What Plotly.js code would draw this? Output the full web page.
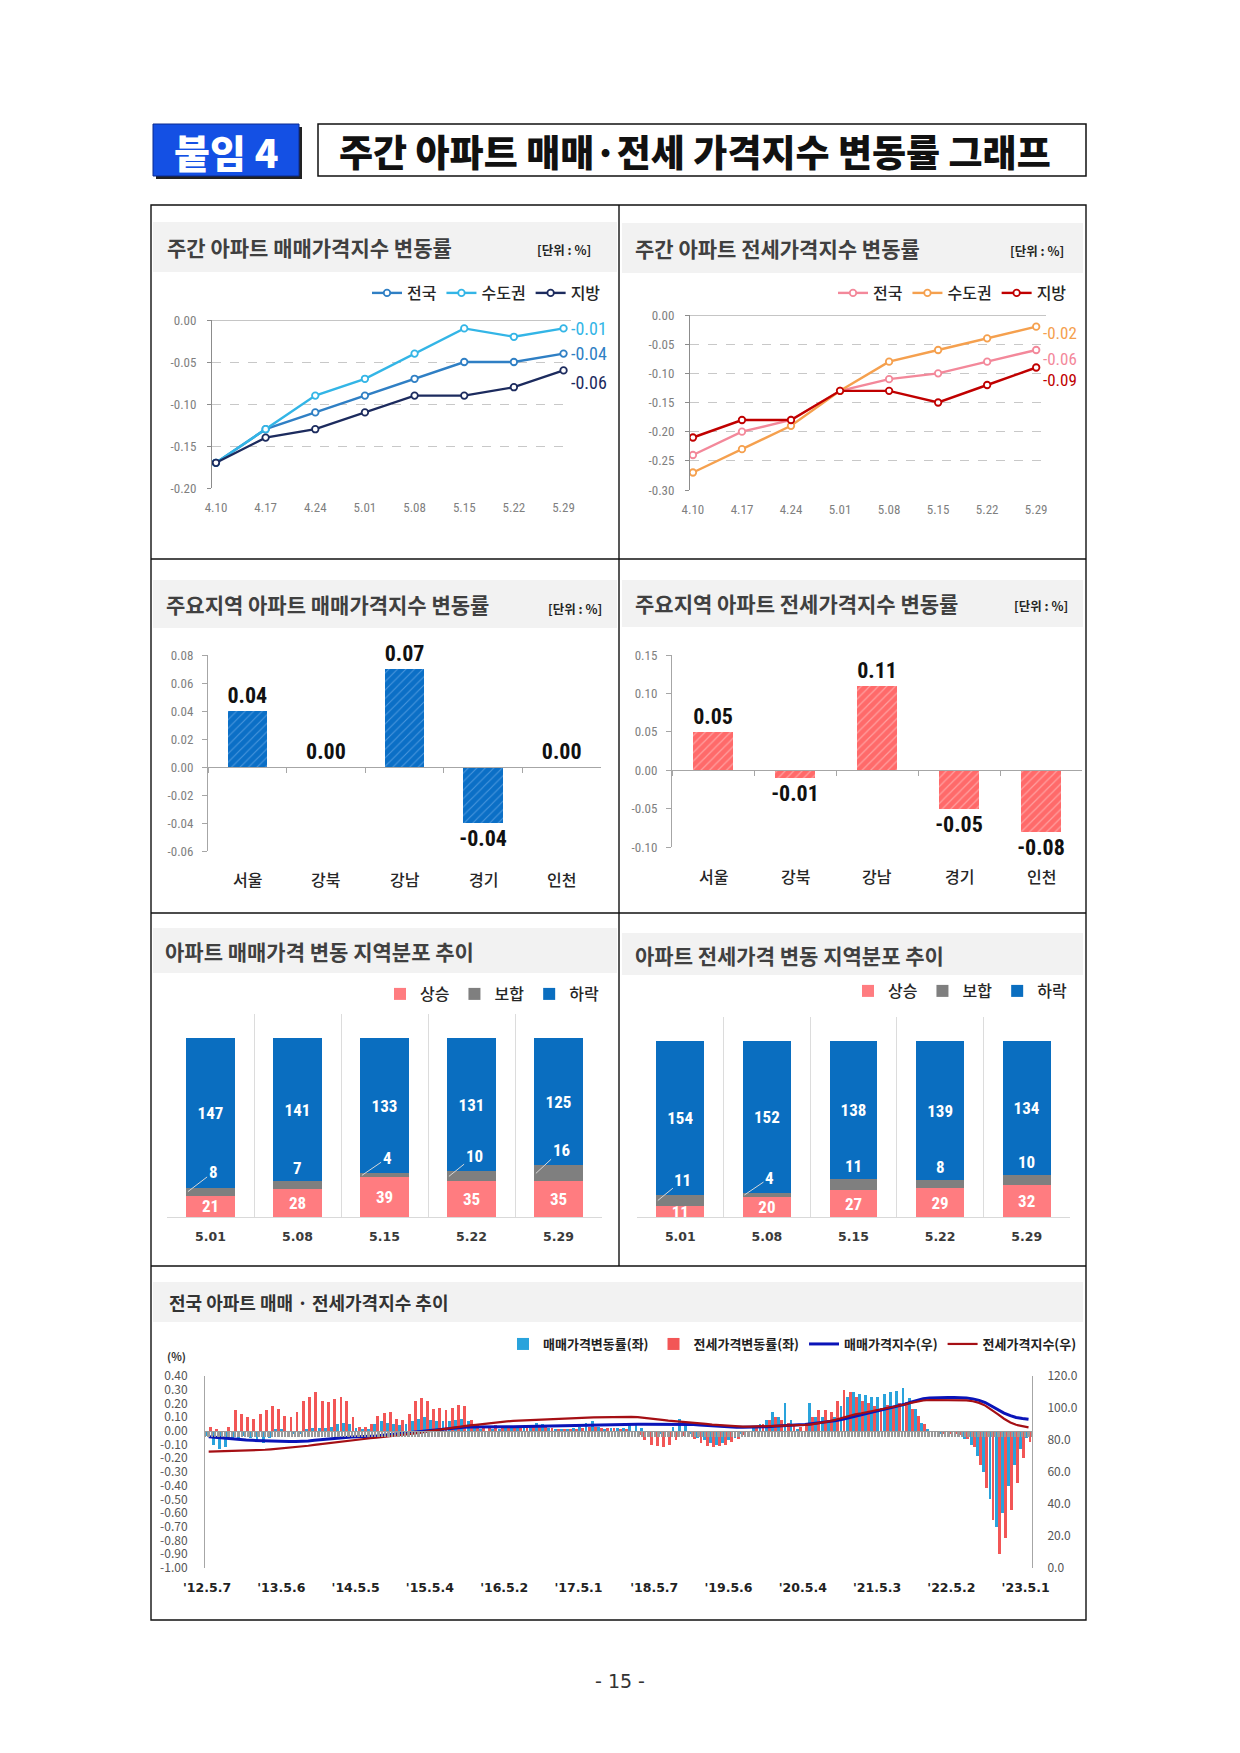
<!DOCTYPE html>
<html><head><meta charset="utf-8">
<script src="https://cdn.plot.ly/plotly-3.0.1.min.js"></script>
<style>html,body{margin:0;padding:0;background:#fff}#chart{width:1240px;height:1753px}</style>
</head><body><div id="chart"></div>
<script>
// ---------- DATA ----------
const weeks = ['4.10','4.17','4.24','5.01','5.08','5.15','5.22','5.29'];
const saleNation  = [-0.17,-0.13,-0.11,-0.09,-0.07,-0.05,-0.05,-0.04];
const saleCapital = [-0.17,-0.13,-0.09,-0.07,-0.04,-0.01,-0.02,-0.01];
const saleLocal   = [-0.17,-0.14,-0.13,-0.11,-0.09,-0.09,-0.08,-0.06];
const jeonseNation  = [-0.24,-0.20,-0.18,-0.13,-0.11,-0.10,-0.08,-0.06];
const jeonseCapital = [-0.27,-0.23,-0.19,-0.13,-0.08,-0.06,-0.04,-0.02];
const jeonseLocal   = [-0.21,-0.18,-0.18,-0.13,-0.13,-0.15,-0.12,-0.09];
const seriesNames = ['전국','수도권','지방'];
const yTicks1 = [0,-0.05,-0.10,-0.15,-0.20];
const yTicks2 = [0,-0.05,-0.10,-0.15,-0.20,-0.25,-0.30];

const regions = ['서울','강북','강남','경기','인천'];
const saleRegion   = [0.04, 0.00, 0.07, -0.04, 0.00];
const jeonseRegion = [0.05, -0.01, 0.11, -0.05, -0.08];
const yTicks3 = [0.08,0.06,0.04,0.02,0,-0.02,-0.04,-0.06];
const yTicks4 = [0.15,0.10,0.05,0,-0.05,-0.10];

const distWeeks = ['5.01','5.08','5.15','5.22','5.29'];
const distNames = ['상승','보합','하락'];
const saleRise = [21,28,39,35,35];
const saleFlat = [8,7,4,10,16];
const saleFall = [147,141,133,131,125];
const saleLeader = [true,false,true,true,true];
const jeonseRise = [11,20,27,29,32];
const jeonseFlat = [11,4,11,8,10];
const jeonseFall = [154,152,138,139,134];
const jeonseLeader = [true,true,false,false,false];

// monthly, 2012-05 .. 2023-05
const saleRate = [
 -0.04,-0.10,-0.13,-0.12,-0.06,-0.05,-0.04,-0.05,
 -0.07,-0.09,-0.05,0.01,0.01,-0.01,-0.02,-0.02,0.01,0.02,0.02,0.02,
 0.03,0.05,0.06,0.05,0.02,0.01,0.01,0.05,0.07,0.06,0.05,0.04,
 0.05,0.07,0.09,0.10,0.08,0.07,0.07,0.07,0.08,0.09,0.07,0.04,
 0.01,0.00,0.01,0.01,0.02,0.02,0.02,0.03,0.04,0.06,0.05,0.02,
 0.01,0.01,0.01,0.02,0.03,0.06,0.07,0.03,0.01,0.02,0.02,0.02,
 0.04,0.05,0.02,0.00,-0.01,-0.02,-0.01,0.03,0.09,0.04,-0.02,-0.05,
 -0.07,-0.09,-0.10,-0.09,-0.07,-0.05,-0.02,0.00,0.02,0.05,0.08,0.14,
 0.10,0.20,0.08,0.01,0.00,0.20,0.10,0.10,0.08,0.10,0.18,0.25,
 0.28,0.27,0.26,0.25,0.25,0.27,0.28,0.29,0.31,0.24,0.16,0.06,
 0.01,-0.01,-0.02,-0.01,-0.01,-0.03,-0.06,-0.10,-0.18,-0.30,-0.50,-0.70,
 -0.60,-0.40,-0.25,-0.13,-0.05];
const jeonseRate = [
 0.03,0.01,0.00,0.03,0.15,0.12,0.10,0.09,
 0.12,0.15,0.18,0.16,0.11,0.10,0.14,0.22,0.25,0.28,0.22,0.21,
 0.23,0.25,0.22,0.10,0.03,0.03,0.05,0.11,0.13,0.14,0.09,0.08,
 0.12,0.22,0.24,0.22,0.16,0.17,0.15,0.17,0.19,0.18,0.08,0.04,
 0.03,0.03,0.04,0.03,0.03,0.02,0.02,0.02,0.03,0.04,0.04,0.02,
 0.01,0.01,0.01,0.01,0.02,0.03,0.03,0.02,0.02,0.02,0.01,0.01,
 0.00,-0.03,-0.07,-0.10,-0.11,-0.12,-0.10,-0.07,-0.04,-0.03,-0.06,-0.09,
 -0.11,-0.12,-0.11,-0.10,-0.08,-0.06,-0.03,0.00,0.02,0.05,0.08,0.10,
 0.08,0.06,0.04,0.03,0.05,0.10,0.15,0.15,0.14,0.22,0.30,0.28,
 0.25,0.22,0.20,0.18,0.17,0.19,0.18,0.20,0.21,0.16,0.11,0.05,
 0.00,-0.01,-0.02,-0.02,-0.02,-0.03,-0.06,-0.12,-0.25,-0.42,-0.65,-0.90,
 -0.78,-0.58,-0.38,-0.20,-0.08];
const saleIndex = [
 82.0,81.6,81.2,80.8,80.5,80.2,80.0,79.8,
 79.6,79.4,79.3,79.2,79.1,79.0,79.0,79.1,79.4,79.8,80.2,80.5,
 80.8,81.1,81.5,81.8,82.0,82.1,82.2,82.5,82.9,83.3,83.6,83.9,
 84.2,84.6,85.1,85.6,86.0,86.4,86.8,87.2,87.6,87.9,88.1,88.2,
 88.2,88.2,88.2,88.3,88.3,88.3,88.4,88.5,88.6,88.7,88.8,88.8,
 88.8,88.8,88.8,88.9,89.0,89.2,89.4,89.5,89.5,89.6,89.7,89.8,
 89.9,89.9,89.9,89.9,89.8,89.8,89.7,89.8,90.0,89.9,89.7,89.4,
 89.1,88.8,88.5,88.2,88.0,87.9,87.9,87.9,88.0,88.1,88.3,88.6,
 88.9,89.3,89.5,89.6,89.7,90.1,90.7,91.2,91.6,92.1,92.9,93.8,
 94.8,95.7,96.6,97.5,98.3,99.2,100.2,101.2,102.3,103.6,104.9,105.8,
 106.2,106.4,106.5,106.5,106.5,106.4,106.2,105.7,104.8,103.4,101.2,98.8,
 96.8,95.2,94.1,93.4,92.9];
const jeonseIndex = [
 72.7,72.8,72.9,73.0,73.2,73.3,73.4,73.5,
 73.7,73.9,74.2,74.5,74.9,75.2,75.5,75.9,76.4,76.9,77.4,77.9,
 78.4,79.0,79.6,80.1,80.5,80.8,81.1,81.4,81.8,82.3,82.7,83.0,
 83.3,83.8,84.5,85.2,85.8,86.3,86.8,87.3,87.9,88.5,89.1,89.5,
 90.0,90.5,90.9,91.3,91.6,91.9,92.1,92.3,92.5,92.8,93.0,93.2,
 93.4,93.5,93.6,93.7,93.8,94.0,94.1,94.2,94.3,94.4,94.5,94.6,
 94.5,94.3,94.0,93.6,93.1,92.6,92.1,91.8,91.5,91.3,91.0,90.6,
 90.1,89.6,89.3,89.0,88.7,88.5,88.4,88.3,88.4,88.6,88.8,89.0,
 89.1,89.2,89.3,89.4,89.5,89.8,90.3,91.0,91.8,92.8,94.0,95.2,
 96.0,96.7,97.4,98.1,98.8,99.5,100.3,101.2,102.2,103.2,104.1,104.7,
 105.0,105.0,105.0,105.0,105.0,105.0,104.8,104.2,103.2,101.5,99.0,96.2,
 93.3,91.0,89.5,88.5,87.9];
const trendTickDates = ['2012-05-07','2013-05-06','2014-05-05','2015-05-04','2016-05-02','2017-05-01','2018-05-07','2019-05-06','2020-05-04','2021-05-03','2022-05-02','2023-05-01'];
const trendTickText = ["'12.5.7","'13.5.6","'14.5.5","'15.5.4","'16.5.2","'17.5.1","'18.5.7","'19.5.6","'20.5.4","'21.5.3","'22.5.2","'23.5.1"];
const rateTicks = [0.4,0.3,0.2,0.1,0,-0.1,-0.2,-0.3,-0.4,-0.5,-0.6,-0.7,-0.8,-0.9,-1.0];
const indexTicks = [0,20,40,60,80,100,120];
const trendNames = ['매매가격변동률(좌)','전세가격변동률(좌)','매매가격지수(우)','전세가격지수(우)'];

// ---------- HELPERS ----------
const W = 1240, H = 1753;
const X = p => p / W;
const Y = p => 1 - p / H;
const KR = "'Noto Sans CJK KR','Noto Sans',sans-serif";
const NARROW = "'Liberation Sans Narrow','Roboto Condensed','Noto Sans CJK KR',sans-serif";
const DEJA = "'DejaVu Sans',sans-serif";
const fmt = v => v.toFixed(2);
const fmt1 = v => v.toFixed(1);
const idx = a => a.map((_, i) => i);

const months = [];
for (let i = 0; i < saleRate.length; i++) {
  const y = 2012 + Math.floor((4 + i) / 12);
  const m = (4 + i) % 12 + 1;
  months.push(y + '-' + String(m).padStart(2, '0'));
}
const saleDates = months.map(m => m + '-07');
const jeonseDates = months.map(m => m + '-22');
const indexDates = months.map(m => m + '-15');
const DAY = 86400000;

function zeroPos(dom, rng) { return dom[0] + (0 - rng[0]) / (rng[1] - rng[0]) * (dom[1] - dom[0]); }

// ---------- TRACES ----------
const traces = [];
const c1 = ['#2f7fc4', '#33b5e6', '#1c2b5e'];
[saleNation, saleCapital, saleLocal].forEach((s, k) => traces.push({
  type: 'scatter', mode: 'lines+markers', x: idx(weeks), y: s, name: seriesNames[k],
  xaxis: 'x', yaxis: 'y', legend: 'legend',
  line: { color: c1[k], width: 2.4 },
  marker: { symbol: 'circle', size: 6.5, color: '#fff', line: { color: c1[k], width: 1.8 } }
}));
const c2 = ['#f3889a', '#f5a04e', '#c00000'];
[jeonseNation, jeonseCapital, jeonseLocal].forEach((s, k) => traces.push({
  type: 'scatter', mode: 'lines+markers', x: idx(weeks), y: s, name: seriesNames[k],
  xaxis: 'x2', yaxis: 'y2', legend: 'legend2',
  line: { color: c2[k], width: 2.4 },
  marker: { symbol: 'circle', size: 6.5, color: '#fff', line: { color: c2[k], width: 1.8 } }
}));
traces.push({
  type: 'bar', x: idx(regions), y: saleRegion, xaxis: 'x3', yaxis: 'y3', showlegend: false,
  width: 0.5, text: saleRegion.map(fmt), textposition: 'outside', cliponaxis: false, constraintext: 'none',
  textfont: { family: NARROW, size: 22, color: '#111', weight: 'bold' },
  marker: { color: '#0b6fc6', line: { width: 0 }, pattern: { shape: '/', bgcolor: '#0b6fc6', fgcolor: '#4a97dd', size: 6, solidity: 0.18 } }
});
traces.push({
  type: 'bar', x: idx(regions), y: jeonseRegion, xaxis: 'x4', yaxis: 'y4', showlegend: false,
  width: 0.49, text: jeonseRegion.map(fmt), textposition: 'outside', cliponaxis: false, constraintext: 'none',
  textfont: { family: NARROW, size: 22, color: '#111', weight: 'bold' },
  marker: { color: '#ff6a6a', line: { width: 0 }, pattern: { shape: '/', bgcolor: '#ff6a6a', fgcolor: '#ffa0a0', size: 6, solidity: 0.2 } }
});
const distColors = ['#ff7c80', '#7f7f7f', '#0a6ec0'];
function distTraces(rise, flat, fall, xa, ya, lg, w) {
  [rise, flat, fall].forEach((s, k) => traces.push({
    type: 'bar', x: idx(distWeeks), y: s, name: distNames[k], xaxis: xa, yaxis: ya, legend: lg,
    width: w, marker: { color: distColors[k], line: { width: 0 } },
    text: k === 1 ? s.map(() => '') : s.map(String), textposition: 'inside', insidetextanchor: 'middle',
    constraintext: 'none', textangle: 0,
    textfont: { family: NARROW, size: 17, color: '#fff', weight: 'bold' }
  }));
}
distTraces(saleRise, saleFlat, saleFall, 'x5', 'y5', 'legend3', 0.56);
distTraces(jeonseRise, jeonseFlat, jeonseFall, 'x6', 'y6', 'legend4', 0.55);

traces.push({ type: 'bar', x: saleDates, y: saleRate, name: trendNames[0], xaxis: 'x7', yaxis: 'y7', legend: 'legend5',
  width: 14 * DAY, marker: { color: '#29a3dc', line: { width: 0 } } });
traces.push({ type: 'bar', x: jeonseDates, y: jeonseRate, name: trendNames[1], xaxis: 'x7', yaxis: 'y7', legend: 'legend5',
  width: 14 * DAY, marker: { color: '#f25656', line: { width: 0 } } });
traces.push({ type: 'scatter', mode: 'lines', x: indexDates, y: saleIndex, name: trendNames[2], xaxis: 'x8', yaxis: 'y8', legend: 'legend5',
  line: { color: '#0a14b8', width: 3 } });
traces.push({ type: 'scatter', mode: 'lines', x: indexDates, y: jeonseIndex, name: trendNames[3], xaxis: 'x8', yaxis: 'y8', legend: 'legend5',
  line: { color: '#a50f14', width: 2.2 } });

// ---------- AXES ----------
const tickF = { family: NARROW, size: 13, color: '#7f7f7f' };
const d1y = [Y(488), Y(320)], r1y = [-0.2, 0];
const d2y = [Y(490), Y(315)], r2y = [-0.3, 0];
const d3y = [Y(851), Y(655)], r3y = [-0.06, 0.08];
const d4y = [Y(847), Y(655)], r4y = [-0.10, 0.15];
const d7y = [Y(1568), Y(1376)], r7y = [-1.0, 0.4];
const r7x = ['2012-04-27', '2023-06-01'];

function lineY(dom, rng, ticks, ax) {
  return { domain: dom, anchor: ax, range: rng, tickmode: 'array', tickvals: ticks, ticktext: ticks.map(fmt),
    showgrid: true, gridcolor: '#c8c8c8', griddash: 'dash', gridwidth: 1, zeroline: false,
    showline: true, linecolor: '#8c8c8c', ticks: 'outside', ticklen: 4, tickcolor: '#8c8c8c',
    tickfont: tickF, ticklabelstandoff: 8, fixedrange: true };
}
function lineX(dom, rng, ay) {
  return { domain: dom, anchor: ay, range: rng, tickmode: 'array', tickvals: idx(weeks), ticktext: weeks,
    showgrid: false, zeroline: false, showline: false, ticks: '', tickfont: tickF, ticklabelstandoff: 10, fixedrange: true };
}
function barX(dom, dy, ry) {
  return { type: 'category', domain: dom, anchor: 'free', position: zeroPos(dy, ry), range: [-0.5, 4.5],
    tickson: 'boundaries', ticks: 'outside', ticklen: 5, tickcolor: '#a6a6a6', showline: true, linecolor: '#a6a6a6',
    showticklabels: false, showgrid: false, zeroline: false, fixedrange: true };
}
function barY(dom, rng, ticks, ax) {
  return { domain: dom, anchor: ax, range: rng, tickmode: 'array', tickvals: ticks, ticktext: ticks.map(fmt),
    showgrid: false, zeroline: false, showline: true, linecolor: '#a6a6a6', ticks: 'outside', ticklen: 5,
    tickcolor: '#a6a6a6', tickfont: tickF, ticklabelstandoff: 6, fixedrange: true };
}
function distX(dom, ay) {
  return { type: 'category', domain: dom, anchor: ay, range: [-0.5, 4.5], tickmode: 'array', tickvals: idx(distWeeks),
    ticktext: distWeeks, tickson: 'boundaries', showgrid: true, gridcolor: '#dcdcdc', ticks: '', showline: true,
    linecolor: '#d9d9d9', tickfont: { family: DEJA, size: 12.5, color: '#3a3a3a', weight: 'bold' }, ticklabelstandoff: 8, fixedrange: true };
}
const legendBase = { orientation: 'h', bgcolor: 'rgba(0,0,0,0)', yanchor: 'middle', xanchor: 'right',
  itemwidth: 30, traceorder: 'normal', font: { family: KR, size: 16, color: '#262626', weight: 500 } };

const layout = {
  width: W, height: H, margin: { l: 0, r: 0, t: 0, b: 0 }, paper_bgcolor: '#fff', plot_bgcolor: 'rgba(0,0,0,0)',
  barmode: 'stack', showlegend: true,
  xaxis: lineX([X(212), X(571)], [-0.08, 7.15], 'y'),
  yaxis: lineY(d1y, r1y, yTicks1, 'x'),
  xaxis2: lineX([X(690), X(1046)], [-0.06, 7.2], 'y2'),
  yaxis2: lineY(d2y, r2y, yTicks2, 'x2'),
  xaxis3: barX([X(208), X(601)], d3y, r3y),
  yaxis3: barY(d3y, r3y, yTicks3, 'x3'),
  xaxis4: barX([X(672), X(1082)], d4y, r4y),
  yaxis4: barY(d4y, r4y, yTicks4, 'x4'),
  xaxis5: distX([X(167), X(602)], 'y5'),
  yaxis5: { domain: [Y(1217), Y(1014)], anchor: 'x5', range: [0, 200], visible: false, fixedrange: true },
  xaxis6: distX([X(637), X(1070)], 'y6'),
  yaxis6: { domain: [Y(1217), Y(1017)], anchor: 'x6', range: [0, 200], visible: false, fixedrange: true },
  xaxis7: { type: 'date', domain: [X(205), X(1032)], anchor: 'y7', range: r7x, tickmode: 'array', tickvals: trendTickDates,
    ticktext: trendTickText, ticks: '', showgrid: false, showline: false, zeroline: false,
    tickfont: { family: DEJA, size: 12.5, color: '#222', weight: 'bold' }, ticklabelstandoff: 10, fixedrange: true },
  yaxis7: { domain: d7y, anchor: 'x7', range: r7y, tickmode: 'array', tickvals: rateTicks, ticktext: rateTicks.map(fmt),
    showgrid: false, zeroline: false, showline: true, linecolor: '#a6a6a6', ticks: '',
    tickfont: { family: KR, size: 12, color: '#555' }, ticklabelstandoff: 14, fixedrange: true },
  xaxis8: { type: 'date', overlaying: 'x7', anchor: 'free', position: zeroPos(d7y, r7y), range: r7x,
    tickmode: 'linear', tick0: '2012-05-07', dtick: 7 * DAY, ticks: 'outside', ticklen: 5, tickcolor: '#9a9a9a',
    tickwidth: 1, showticklabels: false, showline: true, linecolor: '#9a9a9a', showgrid: false, zeroline: false, fixedrange: true },
  yaxis8: { overlaying: 'y7', side: 'right', anchor: 'x8', range: [0, 120], tickmode: 'array', tickvals: indexTicks,
    ticktext: indexTicks.map(fmt1), showgrid: false, zeroline: false, showline: true, linecolor: '#a6a6a6', ticks: '',
    tickfont: { family: KR, size: 12, color: '#555' }, ticklabelstandoff: 12, fixedrange: true },
  legend: Object.assign({}, legendBase, { x: X(606), y: Y(293) }),
  legend2: Object.assign({}, legendBase, { x: X(1072), y: Y(293) }),
  legend3: Object.assign({}, legendBase, { x: X(604), y: Y(994), font: { family: KR, size: 16, color: '#262626', weight: 500 } }),
  legend4: Object.assign({}, legendBase, { x: X(1072), y: Y(991), font: { family: KR, size: 16, color: '#262626', weight: 500 } }),
  legend5: Object.assign({}, legendBase, { x: X(1082), y: Y(1344), font: { family: KR, size: 13, color: '#222', weight: 'bold' } }),
  shapes: [], annotations: []
};

// ---------- PAGE DECORATION ----------
function rect(x0, y0, x1, y1, fill, line, lw, layer) {
  return { type: 'rect', xref: 'paper', yref: 'paper', x0: X(x0), x1: X(x1), y0: Y(y1), y1: Y(y0),
    fillcolor: fill, line: { color: line || 'rgba(0,0,0,0)', width: lw || 0 }, layer: layer || 'below' };
}
function seg(x0, y0, x1, y1, color, w) {
  return { type: 'line', xref: 'paper', yref: 'paper', x0: X(x0), x1: X(x1), y0: Y(y0), y1: Y(y1), line: { color, width: w } };
}
function txt(x, y, text, font, xa) {
  return { xref: 'paper', yref: 'paper', x: X(x), y: Y(y), text, showarrow: false, xanchor: xa || 'left', yanchor: 'middle', font };
}
const S = layout.shapes, A = layout.annotations;
// header
S.push(rect(156, 127, 302, 179, '#222', null, 0));
S.push(rect(153, 124, 299, 176, '#1450e4', '#0a2a90', 1));
S.push(rect(318, 124, 1086, 176, '#fff', '#111', 1.5));
A.push(txt(226, 151, '붙임 4', { family: KR, size: 39, color: '#fff', weight: 900 }, 'center'));
A.push(txt(337, 151, '주간 아파트 매매·전세 가격지수 변동률 그래프', { family: KR, size: 37, color: '#111', weight: 900 }));
// title bands
[[153, 222, 617, 272], [622, 223, 1083, 273], [153, 580, 617, 628], [622, 580, 1083, 627],
 [153, 928, 617, 973], [622, 933, 1083, 975], [153, 1282, 1083, 1322]].forEach(b => S.push(rect(b[0], b[1], b[2], b[3], '#f2f2f2')));
// frame
S.push(rect(151, 205, 1086, 1620, 'rgba(0,0,0,0)', '#111', 1.4, 'above'));
S.push(seg(619, 205, 619, 1266, '#111', 1.4));
[559, 913, 1266].forEach(y => S.push(seg(151, y, 1086, y, '#111', 1.4)));
// solid zero lines on top of weekly charts
S.push({ type: 'line', xref: 'x domain', yref: 'y', x0: 0, x1: 1, y0: 0, y1: 0, line: { color: '#8c8c8c', width: 1.2 } });
S.push({ type: 'line', xref: 'x2 domain', yref: 'y2', x0: 0, x1: 1, y0: 0, y1: 0, line: { color: '#8c8c8c', width: 1.2 } });

const TITLE = { family: KR, size: 21, color: '#404040', weight: 700 };
const UNIT = { family: KR, size: 12.5, color: '#262626', weight: 700 };
A.push(txt(165, 247, '주간 아파트 매매가격지수 변동률', TITLE));
A.push(txt(593, 249, '[단위 : %]', UNIT, 'right'));
A.push(txt(633, 248, '주간 아파트 전세가격지수 변동률', TITLE));
A.push(txt(1066, 250, '[단위 : %]', UNIT, 'right'));
A.push(txt(164, 604, '주요지역 아파트 매매가격지수 변동률', TITLE));
A.push(txt(604, 608, '[단위 : %]', UNIT, 'right'));
A.push(txt(633, 603, '주요지역 아파트 전세가격지수 변동률', TITLE));
A.push(txt(1070, 605, '[단위 : %]', UNIT, 'right'));
A.push(txt(163, 951, '아파트 매매가격 변동 지역분포 추이', TITLE));
A.push(txt(633, 955, '아파트 전세가격 변동 지역분포 추이', TITLE));
A.push(txt(167, 1302, '전국 아파트 매매 · 전세가격지수 추이', { family: KR, size: 18, color: '#333', weight: 700 }));
A.push(txt(176, 1356, '(%)', { family: KR, size: 11, color: '#333', weight: 700 }, 'center'));
A.push(txt(620, 1681, '- 15 -', { family: DEJA, size: 19, color: '#333' }, 'center'));

// end labels of weekly charts
const endShift1 = [0, 0, -12];
[saleNation, saleCapital, saleLocal].forEach((s, k) => A.push({ xref: 'x', yref: 'y', x: s.length - 1, y: s[s.length - 1],
  text: fmt(s[s.length - 1]), showarrow: false, xanchor: 'left', yanchor: 'middle', xshift: 5, yshift: endShift1[k],
  font: { family: NARROW, size: 18, color: c1[k] } }));
const endShift2 = [-9, -6, -13];
[jeonseNation, jeonseCapital, jeonseLocal].forEach((s, k) => A.push({ xref: 'x2', yref: 'y2', x: s.length - 1, y: s[s.length - 1],
  text: fmt(s[s.length - 1]), showarrow: false, xanchor: 'left', yanchor: 'middle', xshift: 5, yshift: endShift2[k],
  font: { family: NARROW, size: 17, color: c2[k] } }));

// region category labels
regions.forEach((r, i) => {
  A.push({ xref: 'x3', yref: 'paper', x: i, y: Y(879), text: r, showarrow: false, xanchor: 'center', yanchor: 'middle',
    font: { family: KR, size: 16, color: '#262626', weight: 500 } });
  A.push({ xref: 'x4', yref: 'paper', x: i, y: Y(876), text: r, showarrow: false, xanchor: 'center', yanchor: 'middle',
    font: { family: KR, size: 16, color: '#262626', weight: 500 } });
});

// flat (보합) labels with leader lines
function flatLabels(rise, flat, leader, xa, ya) {
  rise.forEach((rv, i) => {
    const top = rv + flat[i];
    const f = { family: NARROW, size: 17, color: '#fff', weight: 'bold' };
    if (leader[i]) {
      A.push({ xref: xa, yref: ya, x: i - 0.26, y: rv + flat[i] / 2, axref: xa, ayref: ya, ax: i + 0.03, ay: top + 15,
        text: String(flat[i]), showarrow: true, arrowhead: 0, arrowwidth: 1, arrowcolor: '#d8d8d8', standoff: 0, font: f });
    } else {
      A.push({ xref: xa, yref: ya, x: i, y: top + 13, text: String(flat[i]), showarrow: false, xanchor: 'center', yanchor: 'middle', font: f });
    }
  });
}
flatLabels(saleRise, saleFlat, saleLeader, 'x5', 'y5');
flatLabels(jeonseRise, jeonseFlat, jeonseLeader, 'x6', 'y6');

Plotly.newPlot('chart', traces, layout, { displayModeBar: false, staticPlot: true });
</script></body></html>
